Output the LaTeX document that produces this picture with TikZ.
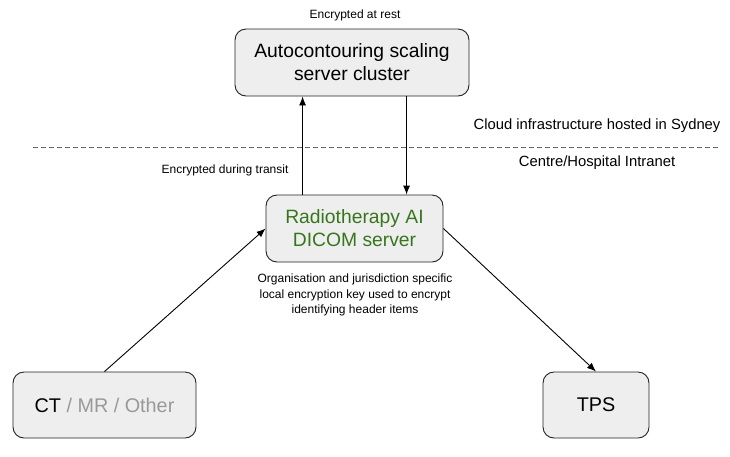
\documentclass[tikz,border=0pt]{standalone}
\usepackage{fontspec}
\setmainfont{Liberation Sans}
\usetikzlibrary{arrows.meta}
\definecolor{boxfill}{HTML}{EEEEEE}
\definecolor{boxline}{HTML}{222222}
\definecolor{greentext}{HTML}{38761D}
\definecolor{graytext}{HTML}{999999}
\definecolor{dashcol}{HTML}{666666}
\tikzset{
  box/.style={draw=boxline, fill=boxfill, rounded corners=11pt, line width=0.9pt, align=center, inner sep=0pt},
  conn/.style={line width=0.9pt, -{Latex[length=9pt,width=7pt]}},
  small/.style={font=\fontsize{12}{15.5}\selectfont, align=center, inner sep=0pt},
  mid/.style={font=\fontsize{14.8}{18}\selectfont, inner sep=0pt},
  big/.style={font=\fontsize{19.3}{23}\selectfont},
}
\begin{document}
\begin{tikzpicture}[x=1pt,y=-1pt]
\useasboundingbox (0,0) rectangle (730,456);
\node[box, big, minimum width=234pt, minimum height=67pt] (cluster) at (352,62.5) {Autocontouring scaling\\server cluster};
\node[box, big, minimum width=177pt, minimum height=67pt, text=greentext] (dicom) at (354.5,228.5) {Radiotherapy AI\\DICOM server};
\node[box, big, minimum width=183pt, minimum height=66pt, font=\fontsize{19.8}{23}\selectfont] (ct) at (104.5,405) {CT \textcolor{graytext}{/ MR / Other}};
\node[box, big, minimum width=106pt, minimum height=66pt, font=\fontsize{19.8}{23}\selectfont] (tps) at (596,405) {TPS};
\node[small] (rest) at (355,15) {Encrypted at rest};
\node[small] (transit) at (225,170) {Encrypted during transit};
\node[small] (keynote) at (355,295) {Organisation and jurisdiction specific\\local encryption key used to encrypt\\identifying header items};
\node[mid] (cloud) at (597,126) {Cloud infrastructure hosted in Sydney};
\node[mid] (intranet) at (597,163) {Centre/Hospital Intranet};
\coordinate (dl) at (33,147);
\coordinate (dr) at (718,147);
\draw[dashcol, dashed, dash pattern=on 5pt off 3pt, line width=0.8pt] (dl) -- (dr);
\draw[conn] (dicom.south west |- dicom.north) ++(37,0) coordinate (upstart) -- (upstart |- cluster.south);
\draw[conn] (cluster.south west) ++(172,0) coordinate (downstart) -- (downstart |- dicom.north);
\draw[conn] (ct.north) -- (dicom.west);
\draw[conn] (dicom.east) -- (tps.north);
\end{tikzpicture}
\end{document}
